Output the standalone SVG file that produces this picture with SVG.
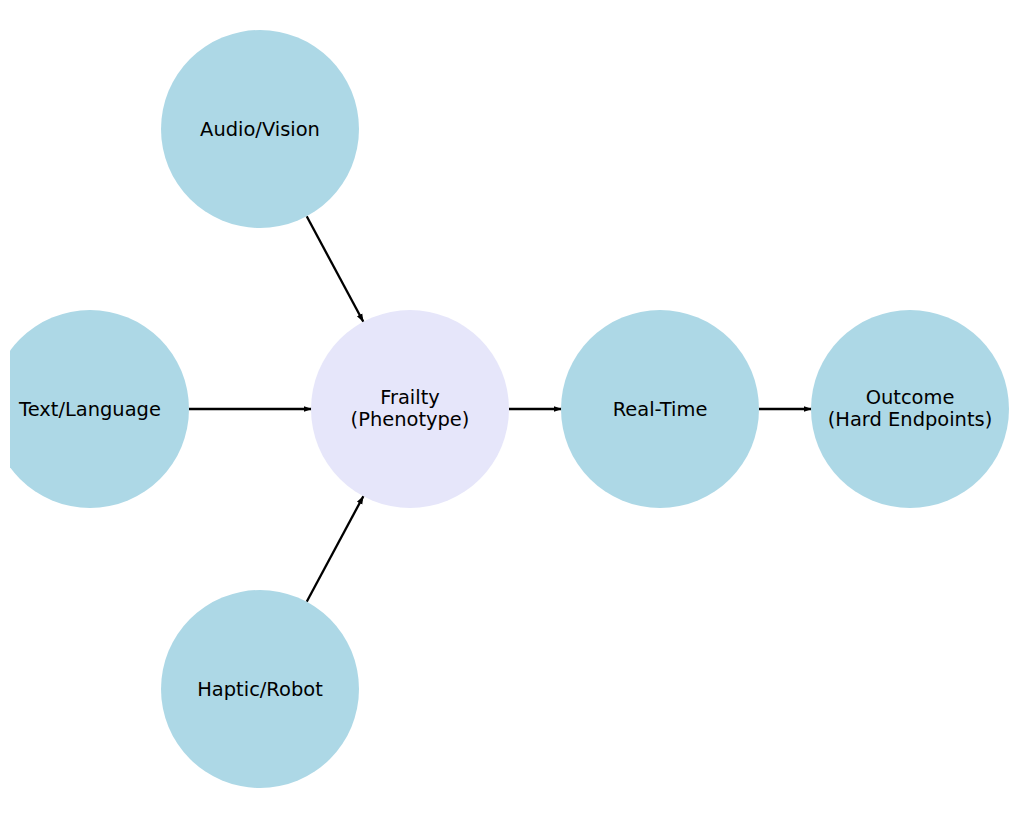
<svg xmlns="http://www.w3.org/2000/svg" width="1019" height="819" viewBox="0 0 1019 819">
<defs>
<style>
.src{fill:#add8e6}
.mid{fill:#e6e6fa}
text{font-family:"DejaVu Sans",sans-serif;font-size:19.44px;fill:#000;text-anchor:middle}
.edge{stroke:#000;stroke-width:2.3;fill:none;marker-end:url(#ah)}
</style>
<marker id="ah" markerUnits="userSpaceOnUse" markerWidth="9" markerHeight="8" viewBox="0 0 9 8" refX="8.5" refY="4" orient="auto">
<path d="M0,1 L8.5,4 L0,7 Z" fill="#000"/>
</marker>
<clipPath id="ax"><rect x="10" y="0" width="1009" height="819"/></clipPath>
</defs>
<rect width="1019" height="819" fill="#fff"/>
<g clip-path="url(#ax)">
<g id="connectors">
<line class="edge" x1="306.7" y1="216.3" x2="363.6" y2="322.3"/>
<line class="edge" x1="189" y1="409" x2="312" y2="409"/>
<line class="edge" x1="306.7" y1="601.7" x2="363.6" y2="495.7"/>
<line class="edge" x1="509" y1="409" x2="562" y2="409"/>
<line class="edge" x1="759" y1="409" x2="812" y2="409"/>
</g>
<g id="audio"><circle class="src" cx="260" cy="129" r="99"/><text x="260" y="135.5">Audio/Vision</text></g>
<g id="text"><circle class="src" cx="90" cy="409" r="99"/><text x="90" y="415.5">Text/Language</text></g>
<g id="haptic"><circle class="src" cx="260" cy="689" r="99"/><text x="260" y="695.5">Haptic/Robot</text></g>
<g id="frailty"><circle class="mid" cx="410" cy="409" r="99"/><text x="410" y="403.5">Frailty</text><text x="410" y="426">(Phenotype)</text></g>
<g id="realtime"><circle class="src" cx="660" cy="409" r="99"/><text x="660" y="415.5">Real-Time</text></g>
<g id="outcome"><circle class="src" cx="910" cy="409" r="99"/><text x="910" y="403.5">Outcome</text><text x="910" y="426">(Hard Endpoints)</text></g>
</g>
</svg>
